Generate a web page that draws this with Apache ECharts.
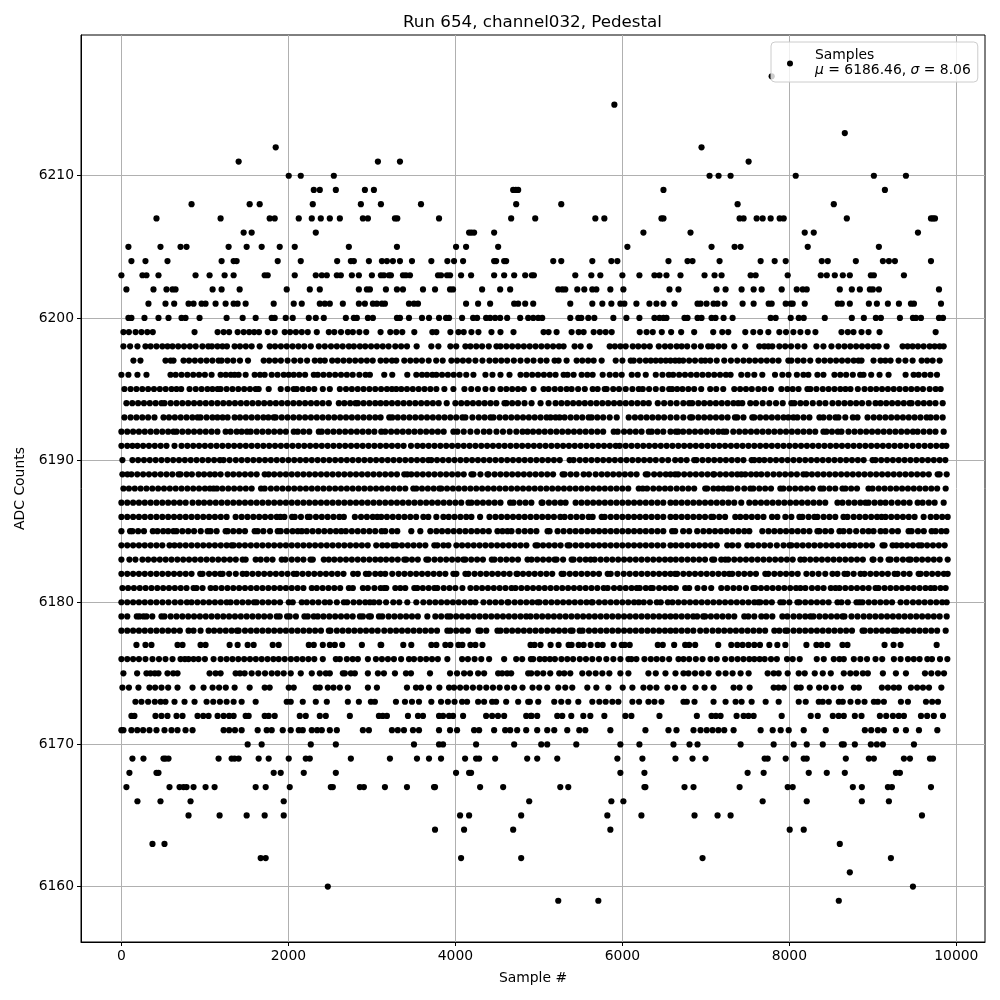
<!DOCTYPE html>
<html><head><meta charset="utf-8">
<script src="https://cdn.jsdelivr.net/npm/echarts@6/dist/echarts.min.js"></script>
<style>html,body{margin:0;padding:0;background:#fff}#c{width:1000px;height:1000px}</style>
</head><body><div id="c"></div>
<script>
const title = "Run 654, channel032, Pedestal";
const xName = "Sample #";
const yName = "ADC Counts";
const xTicks = [0,2000,4000,6000,8000,10000];
const yTicks = [6160,6170,6180,6190,6200,6210];
const legendLine1 = "Samples";
const legendMean = "6186.46";
const legendSigma = "8.06";

const r6217=[7788];
const r6215=[5904];
const r6213=[8664];
const r6212=[1848,6948];
const r6211=[1404,3072,3336,7512];
const r6210=[2004,2148,2544,7044,7152,7296,8076,9012,9396];
const r6209=[2304,2376,2568,2916,3024,4692,4724,4752,6492,9144];
const r6208=[840,1536,1656,2292,2868,3108,3588,4728,5268,7380,8532];
const r6207=[420,1188,1776,1836,2124,2280,2388,2496,2616,2892,2952,3276,3304,3804,4668,4956,5676,5784,6468,6492,7404,7452,7608,7680,7776,7884,7932,8688,9696,9720,9744];
const r6206=[1464,1560,2328,4164,4192,4224,4464,6252,6816,8184,8292,9540];
const r6205=[84,468,708,780,1284,1500,1680,1896,2076,2724,3300,4008,4128,4512,6060,7068,7344,7416,8220,9072];
const r6204=[120,288,552,1200,1344,1380,1872,2148,2584,2748,2784,2964,3120,3180,3252,3336,3480,3712,3904,3984,4092,4464,4488,4584,4608,5172,5268,5640,5868,5940,6552,6780,6840,7164,7656,7824,7956,8388,8460,8796,9120,9192,9264,9696];
const r6203=[0,252,300,444,888,1056,1236,1344,1716,1752,2076,2328,2400,2460,2580,2628,2760,2844,3000,3108,3144,3204,3228,3372,3408,3456,3792,3828,3900,3936,4068,4188,4464,4584,4704,4836,4916,4940,5436,5628,5736,6000,6204,6384,6444,6528,6696,6984,7104,7188,7536,7596,7980,8376,8448,8544,8640,8724,8976,9012,9372];
const r6202=[60,384,540,612,648,1092,1200,1416,1980,2256,2376,2844,2940,2976,3168,3300,3372,3612,3756,3936,3972,4320,4536,4656,5232,5280,5316,5460,5544,5640,5688,5856,6012,6564,6672,7128,7236,7428,7572,7668,7908,8088,8160,8208,8604,8748,8844,8964,9000,9072,9792];
const r6201=[324,528,632,804,864,960,1008,1128,1248,1344,1392,1488,1824,2064,2160,2376,2436,2496,2652,2844,2916,3012,3060,3120,3156,3444,3504,3552,4128,4272,4416,4704,4752,4836,4932,5376,5640,5760,5868,5976,6024,6168,6324,6408,6492,6624,6900,6936,7008,7092,7140,7224,7440,7572,7752,7788,7956,8016,8040,8184,8580,8628,8724,8952,9048,9180,9312,9456,9492,9816];
const r6200=[84,120,276,444,564,720,768,936,1260,1452,1608,1800,1836,1968,2052,2244,2328,2424,2688,2784,2820,2952,3012,3300,3336,3444,3600,3684,3804,3888,3924,4080,4212,4260,4368,4416,4476,4536,4620,4776,4872,4932,4992,5040,5376,5472,5508,5592,5664,5892,6048,6204,6384,6444,6492,6528,6744,6780,6900,6948,7068,7116,7212,7320,7776,7836,8016,8112,8172,8424,8748,8892,9036,9096,9324,9480,9516,9576,9792,9840];
const r6199=[24,90,170,240,310,376,876,1152,1224,1290,1392,1464,1530,1590,1648,1752,1836,1956,2020,2090,2160,2232,2340,2484,2550,2630,2712,2772,2850,2932,3104,3220,3292,3364,3508,3724,3772,3940,4036,4100,4192,4276,4432,4540,4696,5056,5116,5212,5392,5476,5536,5656,5730,5800,5872,6208,6290,6364,6472,6584,6704,6860,7088,7196,7268,7472,7568,7650,7748,7880,7960,8048,8132,8220,8312,8624,8700,8768,8864,8948,9080,9752];
const r6198=[24,104,192,288,350,420,490,552,612,680,750,820,890,970,1040,1084,1150,1210,1264,1356,1420,1490,1560,1656,1776,1840,1910,1980,2050,2120,2190,2268,2364,2436,2510,2580,2650,2724,2784,2856,2920,2990,3060,3130,3200,3280,3350,3420,3536,3712,3796,3940,4010,4120,4180,4250,4320,4400,4492,4540,4610,4680,4750,4820,4890,4960,5030,5100,5170,5240,5296,5428,5500,5608,5848,5910,5976,6040,6124,6190,6260,6328,6436,6510,6576,6650,6710,6776,6860,6940,7028,7076,7150,7220,7340,7472,7640,7700,7748,7796,7880,7950,8020,8100,8180,8324,8408,8504,8588,8660,8730,8800,8870,8940,9010,9068,9164,9356,9416,9476,9540,9608,9680,9740,9800,9848];
const r6197=[144,228,528,590,624,744,810,880,950,1020,1090,1164,1200,1270,1340,1420,1516,1704,1770,1840,1910,1990,2070,2144,2224,2316,2380,2436,2524,2590,2660,2730,2800,2870,2940,3010,3104,3170,3240,3292,3388,3460,3530,3600,3680,3770,3848,3952,4020,4090,4160,4240,4324,4408,4480,4550,4620,4700,4780,4860,4936,5020,5092,5188,5236,5332,5452,5520,5590,5656,5752,5920,6000,6100,6136,6208,6280,6340,6400,6460,6520,6576,6632,6680,6728,6800,6870,6944,6992,7052,7130,7220,7300,7376,7450,7520,7590,7660,7730,7800,7870,7988,8024,8100,8170,8250,8348,8420,8490,8560,8630,8700,8770,8828,8864,9008,9092,9150,9212,9308,9390,9476,9584,9650,9716,9800];
const r6196=[0,84,192,300,588,650,720,790,860,930,1000,1080,1188,1250,1310,1356,1404,1488,1596,1660,1716,1800,1870,1944,2004,2064,2130,2200,2304,2352,2420,2490,2560,2630,2700,2770,2850,2924,2976,3148,3244,3424,3532,3600,3660,3724,3772,3840,3910,3980,4050,4130,4216,4360,4444,4540,4648,4780,4850,4920,4990,5060,5130,5200,5296,5344,5416,5512,5580,5644,5764,5848,5920,5992,6112,6184,6280,6400,6480,6556,6608,6680,6750,6820,6890,6960,7030,7100,7170,7240,7296,7424,7500,7580,7676,7828,7916,7990,8090,8168,8228,8336,8408,8540,8610,8680,8760,8848,8888,8980,9080,9188,9392,9488,9548,9620,9690,9768];
const r6195=[36,110,180,250,320,390,460,530,600,660,716,816,890,960,1030,1090,1152,1188,1260,1330,1400,1470,1540,1608,1644,1764,1908,1990,2064,2100,2170,2240,2310,2412,2496,2616,2690,2760,2830,2900,2970,3040,3110,3180,3240,3292,3352,3420,3490,3560,3630,3700,3772,3868,3976,4108,4190,4270,4360,4444,4540,4610,4680,4750,4820,4936,5056,5116,5190,5260,5332,5392,5470,5550,5644,5704,5788,5812,5890,5960,6040,6120,6196,6244,6320,6400,6480,6560,6596,6656,6720,6790,6860,6944,7052,7124,7208,7340,7410,7480,7550,7628,7700,7780,7904,7976,8040,8110,8216,8252,8324,8400,8470,8540,8610,8672,8732,8820,8900,8972,9040,9110,9180,9250,9320,9392,9460,9530,9600,9680,9752,9812];
const r6194=[60,130,200,270,340,410,480,516,590,660,730,800,870,940,1010,1080,1150,1220,1290,1360,1430,1500,1570,1640,1710,1780,1850,1920,1990,2060,2130,2200,2270,2340,2410,2484,2604,2670,2740,2804,2832,2900,2970,3040,3104,3170,3240,3310,3380,3450,3520,3590,3660,3730,3800,3896,4000,4070,4140,4210,4280,4350,4420,4490,4588,4612,4680,4750,4828,4912,5020,5116,5200,5270,5340,5410,5480,5550,5620,5690,5760,5830,5900,5970,6040,6110,6180,6250,6316,6424,6500,6576,6650,6730,6800,6836,6910,6980,7050,7120,7190,7260,7330,7388,7436,7532,7600,7680,7760,7840,7920,8024,8060,8132,8200,8280,8360,8432,8516,8588,8660,8730,8800,8870,8950,9032,9092,9160,9230,9300,9370,9440,9464,9540,9610,9680,9750,9836];
const r6193=[36,110,180,250,320,396,504,570,640,710,780,850,912,948,1020,1090,1150,1212,1272,1356,1420,1490,1560,1630,1700,1760,1824,1848,1920,1990,2060,2130,2200,2270,2340,2410,2480,2550,2620,2690,2760,2830,2900,2970,3040,3104,3208,3244,3310,3380,3450,3520,3590,3660,3730,3800,3870,3940,4010,4084,4120,4204,4280,4350,4420,4456,4530,4600,4670,4740,4810,4880,4950,5020,5092,5140,5200,5248,5308,5380,5450,5520,5596,5632,5700,5770,5848,5932,6076,6150,6220,6290,6360,6430,6500,6576,6650,6730,6812,6836,6910,6980,7050,7120,7190,7260,7348,7376,7450,7556,7580,7650,7720,7790,7860,7930,7988,8048,8096,8170,8240,8360,8408,8480,8552,8588,8670,8760,8816,8936,9010,9080,9150,9220,9290,9360,9430,9500,9570,9644,9692,9760,9836];
const r6192=[0,70,140,210,280,350,420,490,560,624,660,730,800,870,940,1010,1080,1150,1248,1308,1380,1440,1504,1548,1620,1690,1760,1830,1900,1970,2064,2112,2180,2250,2364,2400,2470,2540,2610,2680,2750,2820,2890,2960,3030,3112,3160,3230,3300,3370,3440,3510,3580,3650,3720,3790,3860,3976,4024,4100,4180,4260,4340,4408,4492,4570,4650,4730,4804,4864,4930,5000,5070,5140,5210,5280,5350,5420,5490,5560,5630,5700,5770,5896,5944,6020,6090,6160,6230,6316,6352,6420,6490,6576,6640,6668,6728,6800,6870,6940,7010,7080,7150,7208,7244,7328,7400,7470,7540,7610,7680,7750,7820,7890,7960,8030,8100,8170,8240,8310,8408,8444,8510,8580,8624,8708,8780,8850,8920,8990,9060,9130,9200,9270,9340,9410,9480,9536,9608,9680,9750,9848];
const r6191=[0,70,132,192,260,330,400,470,540,636,720,790,860,930,1000,1070,1140,1210,1280,1350,1420,1490,1560,1630,1700,1770,1840,1910,1980,2050,2120,2190,2260,2330,2400,2470,2540,2610,2680,2750,2820,2890,2960,3030,3100,3170,3240,3310,3380,3468,3544,3610,3680,3750,3820,3890,3960,4030,4100,4170,4240,4310,4380,4450,4520,4590,4660,4730,4800,4870,4940,5010,5080,5150,5220,5290,5360,5430,5500,5570,5640,5710,5780,5850,5920,5968,6040,6110,6180,6250,6320,6390,6460,6530,6600,6670,6740,6810,6880,6950,7020,7090,7160,7230,7300,7370,7440,7510,7580,7650,7720,7790,7860,7930,8000,8070,8140,8210,8280,8350,8420,8490,8560,8630,8700,8770,8840,8910,8980,9050,9120,9190,9260,9330,9400,9476,9548,9620,9690,9760,9830,9880];
const r6190=[12,132,200,270,340,410,480,550,620,690,760,830,900,970,1040,1110,1180,1224,1296,1370,1440,1510,1580,1650,1720,1790,1860,1930,2000,2070,2140,2210,2280,2350,2420,2490,2560,2630,2700,2770,2840,2910,2980,3050,3120,3190,3260,3330,3400,3470,3540,3610,3676,3712,3780,3850,3920,3990,4060,4130,4200,4270,4340,4410,4480,4550,4620,4690,4760,4830,4900,4970,5040,5110,5180,5250,5368,5416,5490,5560,5630,5700,5770,5840,5910,5980,6050,6120,6190,6260,6330,6400,6476,6548,6632,6700,6770,6860,6888,6960,7030,7100,7170,7240,7310,7380,7450,7548,7580,7640,7700,7770,7840,7910,7980,8050,8120,8190,8260,8330,8400,8470,8540,8610,8680,8750,8820,8890,8996,9032,9100,9170,9240,9310,9380,9450,9520,9590,9660,9730,9800,9868];
const r6189=[12,72,120,190,260,330,400,470,540,610,684,708,780,844,924,990,1060,1120,1188,1272,1340,1410,1480,1550,1620,1716,1764,1830,1900,1970,2040,2110,2180,2250,2320,2390,2460,2530,2600,2670,2740,2810,2880,2950,3020,3090,3160,3230,3300,3388,3424,3472,3540,3610,3680,3750,3820,3890,3960,4030,4100,4192,4216,4300,4384,4396,4470,4540,4610,4680,4750,4820,4890,4960,5030,5100,5170,5284,5308,5380,5450,5536,5600,5680,5752,5820,5890,5960,6030,6100,6170,6280,6304,6380,6450,6520,6576,6632,6668,6740,6810,6880,6950,7020,7088,7100,7170,7240,7310,7376,7424,7472,7540,7604,7664,7736,7810,7880,7950,8020,8090,8168,8204,8270,8340,8410,8480,8550,8620,8690,8760,8830,8900,8970,9040,9110,9180,9250,9320,9390,9460,9530,9600,9670,9776,9800,9884];
const r6188=[24,90,160,230,300,370,440,510,580,650,720,790,860,930,1000,1060,1104,1144,1210,1280,1350,1420,1490,1560,1672,1716,1790,1860,1930,2000,2070,2140,2210,2280,2350,2420,2490,2560,2630,2700,2770,2840,2910,2980,3050,3120,3190,3260,3330,3400,3496,3532,3600,3670,3740,3808,3832,3900,3970,4040,4110,4180,4250,4320,4390,4460,4530,4600,4670,4740,4810,4880,4950,5020,5090,5160,5230,5300,5370,5440,5510,5580,5650,5720,5790,5860,5930,6000,6070,6196,6244,6296,6370,6440,6510,6576,6650,6720,6790,6860,6992,7016,7090,7150,7208,7268,7304,7380,7460,7532,7568,7640,7710,7780,7892,7928,8000,8070,8140,8210,8280,8372,8408,8480,8550,8636,8672,8740,8810,8948,8996,9070,9140,9210,9280,9350,9420,9490,9560,9630,9700,9770,9872];
const r6187=[0,70,140,210,280,350,420,490,560,630,700,770,852,924,990,1060,1130,1200,1270,1340,1410,1480,1550,1620,1690,1760,1830,1900,1970,2040,2110,2180,2250,2320,2390,2460,2530,2600,2670,2740,2810,2880,2950,3020,3090,3160,3230,3300,3370,3440,3510,3580,3650,3720,3790,3860,3930,4000,4070,4156,4192,4260,4330,4400,4470,4540,4656,4696,4770,4840,4910,5032,5044,5120,5190,5260,5320,5440,5510,5580,5650,5720,5790,5860,5930,6000,6070,6140,6210,6280,6350,6420,6490,6576,6640,6710,6780,6850,6920,6990,7060,7130,7200,7270,7340,7424,7520,7590,7660,7730,7800,7870,7940,8010,8080,8150,8220,8290,8360,8430,8576,8636,8710,8780,8850,8912,8948,9020,9090,9152,9224,9300,9370,9440,9536,9596,9670,9740,9848];
const r6186=[0,70,140,210,280,350,420,490,560,630,700,770,840,910,980,1050,1120,1190,1260,1368,1440,1510,1580,1650,1720,1790,1860,1904,1952,2044,2076,2150,2232,2256,2330,2400,2470,2540,2610,2664,2796,2870,2940,3010,3064,3112,3180,3250,3320,3390,3460,3530,3616,3676,3772,3856,3920,3990,4060,4130,4192,4296,4408,4480,4550,4620,4690,4760,4830,4900,4970,5040,5110,5180,5256,5308,5380,5450,5520,5596,5644,5752,5788,5860,5930,6000,6070,6140,6210,6280,6350,6420,6490,6576,6640,6710,6780,6850,6920,6990,7064,7088,7160,7230,7352,7412,7480,7550,7620,7690,7792,7856,7952,8024,8120,8156,8230,8300,8336,8410,8480,8550,8648,8696,8770,8840,8910,8980,9050,9104,9152,9220,9290,9360,9430,9500,9608,9692,9760,9830,9896];
const r6185=[0,104,132,200,270,376,432,500,560,624,660,730,800,870,950,1032,1068,1140,1248,1272,1340,1410,1480,1596,1632,1700,1780,1872,1908,1980,2050,2112,2160,2220,2290,2360,2430,2500,2570,2632,2688,2760,2830,2900,2970,3040,3116,3160,3240,3304,3472,3580,3700,3772,3840,3910,3980,4050,4120,4190,4260,4330,4400,4504,4564,4624,4672,4756,4830,4900,4970,5104,5128,5224,5296,5370,5440,5510,5580,5650,5720,5790,5860,5930,6000,6070,6140,6210,6280,6350,6420,6490,6596,6632,6728,6800,6896,6970,7040,7110,7180,7250,7320,7390,7460,7520,7676,7750,7820,7890,7960,8030,8100,8170,8240,8336,8360,8430,8500,8600,8648,8720,8800,8880,8948,9008,9092,9152,9230,9300,9428,9464,9540,9610,9704,9752,9820,9880];
const r6184=[0,70,140,210,280,350,420,490,576,636,700,770,840,910,980,1050,1120,1190,1260,1320,1344,1410,1480,1550,1620,1690,1760,1830,1900,1970,2040,2110,2180,2250,2320,2390,2460,2530,2600,2670,2740,2810,2880,2950,3052,3124,3184,3256,3292,3360,3430,3500,3570,3640,3748,3784,3856,3916,4012,4080,4150,4220,4290,4360,4430,4500,4570,4640,4710,4780,4850,4960,4984,5050,5120,5190,5260,5344,5368,5440,5510,5580,5650,5720,5790,5860,5930,6000,6070,6140,6210,6280,6350,6420,6490,6576,6640,6710,6780,6850,6920,6990,7060,7130,7256,7316,7388,7496,7556,7628,7700,7770,7850,7930,8000,8024,8090,8160,8230,8300,8370,8440,8510,8580,8650,8720,8780,8850,8920,8990,9116,9140,9236,9284,9344,9410,9480,9548,9584,9650,9720,9790,9860];
const r6183=[0,96,168,252,320,390,460,530,600,670,740,810,880,950,1020,1090,1160,1230,1300,1370,1452,1488,1608,1668,1740,1810,1920,1964,2040,2110,2180,2264,2292,2424,2484,2550,2620,2690,2760,2830,2900,2970,3040,3104,3170,3240,3310,3388,3412,3480,3550,3652,3676,3750,3820,3890,3960,4030,4096,4120,4190,4260,4330,4436,4468,4540,4610,4680,4750,4864,4912,4980,5050,5120,5188,5212,5290,5392,5416,5490,5560,5620,5668,5740,5810,5880,5950,6020,6090,6160,6230,6300,6370,6440,6510,6576,6640,6710,6780,6850,6920,6990,7076,7100,7184,7232,7268,7340,7410,7480,7550,7620,7690,7760,7830,7900,7970,8040,8132,8180,8250,8320,8390,8460,8530,8600,8670,8740,8810,8880,8996,9008,9090,9188,9212,9284,9360,9428,9452,9520,9590,9660,9730,9800,9896];
const r6182=[0,70,140,210,280,350,420,490,560,630,700,770,840,944,972,1050,1120,1184,1212,1290,1370,1452,1500,1570,1640,1710,1780,1850,1920,1990,2064,2100,2170,2240,2310,2380,2450,2520,2590,2660,2776,2832,2928,2964,3040,3104,3160,3244,3320,3390,3460,3530,3600,3670,3740,3810,3880,3976,4012,4120,4156,4230,4300,4370,4440,4510,4580,4650,4732,4744,4810,4880,4950,5020,5090,5160,5272,5296,5370,5440,5510,5580,5650,5720,5824,5860,5940,6016,6088,6160,6230,6300,6370,6440,6510,6576,6632,6656,6730,6800,6870,6940,7010,7080,7150,7220,7280,7316,7390,7460,7530,7600,7712,7748,7820,7890,7960,8030,8100,8204,8276,8350,8430,8516,8576,8660,8696,8770,8852,8900,8970,9040,9110,9180,9260,9296,9370,9440,9548,9572,9640,9710,9780,9850,9896];
const r6181=[12,80,150,220,290,360,430,500,570,640,710,780,864,900,972,1068,1128,1200,1270,1340,1410,1480,1550,1620,1690,1760,1830,1900,1970,2040,2110,2180,2280,2340,2410,2480,2550,2620,2724,2772,2892,2952,3030,3104,3148,3172,3280,3340,3400,3508,3544,3610,3680,3748,3784,3860,3930,4000,4084,4180,4250,4320,4390,4460,4530,4600,4672,4720,4790,4860,4930,5000,5070,5140,5210,5280,5350,5420,5490,5560,5630,5700,5776,5824,5900,5970,6040,6110,6172,6208,6280,6340,6364,6440,6510,6576,6640,6752,6800,6900,6980,7064,7184,7256,7330,7400,7480,7568,7592,7660,7730,7800,7870,7940,8010,8080,8132,8192,8270,8340,8410,8496,8552,8600,8670,8740,8810,8880,8950,9032,9068,9140,9210,9280,9350,9420,9490,9560,9630,9692,9740,9810,9872];
const r6180=[0,70,140,210,280,350,420,492,564,640,710,784,840,910,980,1050,1120,1190,1260,1308,1380,1450,1520,1588,1620,1690,1760,1830,1900,2004,2052,2160,2220,2290,2360,2436,2496,2580,2664,2704,2780,2850,2920,2976,3024,3088,3170,3256,3328,3424,3532,3616,3690,3760,3830,3900,3970,4040,4110,4180,4240,4336,4410,4480,4550,4624,4636,4710,4780,4850,4920,4984,5008,5080,5150,5220,5290,5360,5430,5500,5570,5632,5644,5720,5790,5860,5930,6000,6070,6140,6196,6256,6330,6412,6460,6544,6600,6670,6740,6810,6880,6950,7020,7090,7160,7230,7300,7370,7440,7510,7580,7628,7652,7720,7790,7892,7928,8000,8096,8120,8190,8260,8330,8400,8470,8576,8624,8700,8804,8840,8876,8950,9020,9090,9160,9230,9332,9404,9480,9550,9620,9690,9760,9830,9884];
const r6179=[0,70,184,216,264,300,370,480,516,590,660,730,800,870,940,1010,1080,1150,1220,1290,1360,1430,1500,1570,1640,1710,1780,1860,1896,1984,2016,2090,2192,2232,2304,2352,2420,2490,2560,2630,2700,2770,2856,2892,2964,2988,3084,3124,3200,3270,3340,3410,3480,3550,3664,3760,3830,3904,3940,4010,4080,4150,4220,4290,4360,4430,4500,4570,4640,4710,4780,4848,4900,4970,5040,5110,5180,5250,5320,5390,5460,5530,5600,5670,5740,5810,5880,5950,6020,6090,6160,6230,6300,6370,6440,6510,6576,6640,6710,6780,6848,6896,6968,6992,7060,7130,7200,7270,7340,7460,7508,7580,7664,7724,7796,7916,7976,8050,8120,8190,8252,8288,8360,8430,8500,8570,8636,8660,8744,8816,8890,8960,9030,9100,9170,9240,9310,9380,9450,9520,9590,9660,9730,9800,9884];
const r6178=[0,70,140,210,280,350,420,490,560,630,700,804,864,948,1044,1110,1180,1250,1320,1384,1404,1480,1550,1620,1690,1760,1830,1900,1970,2040,2110,2180,2250,2320,2390,2484,2504,2580,2650,2720,2790,2860,2930,3000,3070,3148,3220,3290,3360,3430,3500,3570,3640,3710,3780,3904,3940,4010,4080,4150,4276,4300,4370,4504,4540,4610,4680,4750,4820,4890,4960,5030,5100,5170,5240,5310,5380,5404,5488,5524,5600,5670,5740,5810,5880,5950,6020,6090,6160,6230,6300,6370,6440,6510,6576,6640,6710,6780,6850,6932,7004,7080,7150,7220,7290,7360,7430,7500,7570,7640,7710,7820,7880,7952,7976,8050,8120,8190,8260,8330,8400,8470,8540,8610,8680,8750,8876,8900,8970,9040,9110,9180,9248,9284,9350,9420,9490,9560,9630,9700,9770,9872];
const r6177=[180,288,360,672,732,948,1008,1296,1392,1512,1584,1812,1884,2244,2304,2412,2496,2556,2644,2880,3104,3112,3376,3472,3712,3772,3880,3940,4036,4084,4180,4240,4324,4900,4948,5020,5140,5236,5356,5392,5476,5536,5620,5704,5764,5896,5992,6028,6088,6424,6484,6620,6752,6800,6872,7148,7304,7376,7440,7510,7580,7648,7760,7856,7952,8204,8324,8384,8456,8636,8696,9140,9248,9332,9764];
const r6176=[0,70,140,210,288,372,450,528,612,708,760,804,864,924,1000,1104,1188,1260,1330,1400,1470,1540,1610,1680,1750,1820,1884,1956,2030,2100,2170,2240,2310,2412,2568,2616,2700,2770,2832,2952,3048,3120,3192,3264,3350,3444,3504,3580,3650,3720,3790,3904,4080,4150,4230,4310,4404,4584,4728,4800,4904,4932,5010,5070,5132,5192,5270,5340,5410,5490,5564,5640,5720,5808,5892,5976,6072,6108,6168,6264,6340,6410,6480,6560,6672,6732,6800,6880,6960,7056,7130,7230,7308,7380,7450,7520,7580,7644,7704,7780,7850,7972,8040,8124,8328,8412,8532,8600,8652,8772,8850,8930,9032,9112,9252,9332,9420,9490,9560,9652,9708,9804,9892];
const r6175=[24,188,300,348,400,444,552,620,672,1056,1128,1188,1368,1420,1476,1560,1640,1720,1800,1870,1944,2028,2148,2280,2376,2448,2496,2652,2676,2748,2796,2952,3072,3144,3276,3408,3468,3696,3936,4020,4104,4176,4272,4344,4512,4560,4620,4668,4872,4908,4980,5052,5136,5244,5304,5376,5520,5600,5680,5760,5844,5976,6072,6312,6400,6516,6636,6732,6792,6870,6950,7032,7152,7236,7320,7416,7512,7740,7812,7872,7980,8112,8184,8304,8400,8496,8652,8730,8800,8880,8940,9120,9276,9396,9624,9700,9780,9852];
const r6174=[12,90,204,336,404,480,560,672,852,984,1092,1170,1250,1356,1536,1716,1776,2004,2064,2328,2376,2472,2540,2616,2712,2952,3060,3420,3528,3588,3684,3808,3924,3984,4056,4130,4210,4290,4370,4450,4530,4620,4704,4804,4924,5004,5100,5232,5316,5400,5580,5688,5832,6004,6120,6252,6330,6408,6540,6630,6732,6876,6984,7092,7332,7404,7524,7812,7870,7932,8088,8136,8244,8356,8436,8530,8616,8772,8832,9108,9180,9250,9312,9456,9530,9600,9672,9820];
const r6173=[168,240,320,400,470,528,636,756,876,1020,1100,1180,1260,1344,1440,1608,1980,2028,2172,2328,2460,2712,2844,2988,3036,3288,3396,3480,3564,3712,3828,3910,3990,4080,4140,4272,4344,4440,4488,4608,4752,4872,4892,4992,5184,5268,5352,5472,5640,5724,5800,5880,5952,6120,6200,6312,6384,6468,6732,6772,6864,7092,7236,7356,7428,7548,7716,7872,8112,8196,8352,8400,8472,8592,8640,8732,8820,8900,9012,9060,9132,9336,9420,9636,9710,9780];
const r6172=[120,156,408,480,552,660,732,912,980,1044,1152,1224,1290,1344,1488,1524,1716,1764,1836,2136,2208,2376,2448,2736,3084,3130,3180,3432,3552,3612,3804,3852,3924,3972,4092,4368,4440,4510,4584,4848,4904,4912,4980,5220,5280,5388,5532,5616,5784,6036,6108,6444,6892,7068,7120,7176,7368,7452,7510,7572,7908,8256,8340,8520,8590,8652,8784,8864,9084,9160,9240,9310,9372,9576,9650,9730,9840];
const r6171=[0,24,120,190,260,336,420,516,600,672,768,852,1224,1290,1360,1440,1632,1740,1800,1932,2028,2124,2172,2280,2344,2400,2496,2580,2892,2964,3240,3310,3384,3492,3564,3804,3936,4020,4224,4284,4464,4596,4656,4740,4848,4980,5100,5184,5340,5484,5556,5856,6276,6552,6648,6852,6936,7010,7080,7150,7220,7332,7656,7800,7896,7992,8172,8436,8904,8980,9060,9132,9276,9396,9552,9772];
const r6170=[1512,1680,2268,2568,3504,3804,3852,4248,4704,5028,5100,5448,5976,6204,6612,6804,6900,7416,7812,8052,8208,8400,8628,8652,8784,8976,9048,9120,9492];
const r6169=[132,264,504,528,564,1164,1320,1356,1404,1644,1764,2004,2208,2256,2748,3216,3540,3684,3828,4116,4248,4284,4476,4860,4980,5220,5940,6240,6636,6840,6996,7704,7740,7956,8172,8208,8676,8952,9012,9372,9444,9684,9720];
const r6168=[96,420,444,1824,1908,2184,2568,4008,4164,4188,5976,6264,7500,7692,8232,8448,8664,9276,9324];
const r6167=[60,576,696,744,780,864,1008,1116,1608,1728,2016,2508,2532,2856,2904,3156,3420,3744,3756,4296,4572,5256,5352,6264,6276,6744,6852,7404,7980,8040,8760,8868,9180,9228,9696];
const r6166=[192,468,828,1944,4884,5868,6012,7680,8208,8868,9192];
const r6165=[804,1176,1500,1716,1944,4056,4164,4788,5820,6228,6864,7140,7296,9588];
const r6164=[3756,4104,4692,5856,8004,8172];
const r6163=[372,516,8604];
const r6162=[1668,1728,4068,4788,6960,9216];
const r6161=[8724];
const r6160=[2472,9480];
const r6159=[5232,5712,8592];

const rowTable = [[6217,r6217],[6215,r6215],[6213,r6213],[6212,r6212],[6211,r6211],[6210,r6210],[6209,r6209],[6208,r6208],[6207,r6207],[6206,r6206],[6205,r6205],[6204,r6204],[6203,r6203],[6202,r6202],[6201,r6201],[6200,r6200],[6199,r6199],[6198,r6198],[6197,r6197],[6196,r6196],[6195,r6195],[6194,r6194],[6193,r6193],[6192,r6192],[6191,r6191],[6190,r6190],[6189,r6189],[6188,r6188],[6187,r6187],[6186,r6186],[6185,r6185],[6184,r6184],[6183,r6183],[6182,r6182],[6181,r6181],[6180,r6180],[6179,r6179],[6178,r6178],[6177,r6177],[6176,r6176],[6175,r6175],[6174,r6174],[6173,r6173],[6172,r6172],[6171,r6171],[6170,r6170],[6169,r6169],[6168,r6168],[6167,r6167],[6166,r6166],[6165,r6165],[6164,r6164],[6163,r6163],[6162,r6162],[6161,r6161],[6160,r6160],[6159,r6159]];
const points = [];
rowTable.forEach(([y, xs]) => xs.forEach(x => points.push([x, y])));

const font = '"DejaVu Sans"';
const seriesName = legendLine1;
const axisCommon = {
  axisLine:{show:true,onZero:false,lineStyle:{color:'#000',width:1}},
  axisTick:{show:true,length:4,lineStyle:{color:'#000',width:1}},
  splitLine:{show:true,lineStyle:{color:'#b0b0b0',width:1}},
  nameLocation:'middle',
  nameTextStyle:{fontFamily:font,fontSize:13.9,color:'#000'},
};
const chart = echarts.init(document.getElementById('c'), null, {renderer:'canvas'});
chart.setOption({
  animation:false,
  backgroundColor:'#fff',
  title:{text:title,left:403,top:14,padding:0,
    textStyle:{fontFamily:font,fontSize:16.7,fontWeight:'normal',color:'#000'}},
  grid:{left:81,right:15,top:35,bottom:58,containLabel:false,show:true,borderColor:'#000',borderWidth:1,backgroundColor:'transparent'},
  xAxis:Object.assign({},axisCommon,{
    type:'value',min:-484,max:10343,name:xName,nameGap:29,
    axisTick:Object.assign({},axisCommon.axisTick,{customValues:xTicks}),
    axisLabel:{customValues:xTicks,formatter:v=>String(v),fontFamily:font,fontSize:13.9,color:'#000',margin:7,showMinLabel:true,showMaxLabel:true},
  }),
  yAxis:Object.assign({},axisCommon,{
    type:'value',min:6156.1,max:6219.9,name:yName,nameGap:47,
    axisTick:Object.assign({},axisCommon.axisTick,{customValues:yTicks}),
    axisLabel:{customValues:yTicks,formatter:v=>String(v),fontFamily:font,fontSize:13.9,color:'#000',margin:7,showMinLabel:true,showMaxLabel:true},
  }),
  legend:{
    show:true,left:771,top:42,orient:'vertical',
    padding:[6,7,1,16],
    backgroundColor:'rgba(255,255,255,0.8)',borderColor:'#cccccc',borderWidth:1,borderRadius:4,
    itemWidth:28,itemHeight:6,icon:'circle',
    data:[{name:seriesName,itemStyle:{color:'#000'}}],
    formatter:()=>'{s|}{a|'+legendLine1+'}\n{s|}{i|μ}{b| = '+legendMean+', }{i|σ}{b| = '+legendSigma+'}',
    textStyle:{fontFamily:font,fontSize:13.9,color:'#000',
      rich:{
        s:{width:6,lineHeight:17},
        a:{fontFamily:font,fontSize:13.9,color:'#000',lineHeight:17},
        b:{fontFamily:font,fontSize:13.9,color:'#000',lineHeight:17,padding:[0,0,4,0]},
        i:{fontFamily:font,fontSize:13.9,color:'#000',fontStyle:'italic',lineHeight:17,padding:[0,0,4,0]}
      }}
  },
  series:[{
    name:seriesName,type:'scatter',data:points,symbol:'circle',symbolSize:6.2,
    itemStyle:{color:'#000',opacity:1},silent:true,progressive:0,large:false,
    emphasis:{disabled:true},clip:true,z:3
  }]
});
</script></body></html>
